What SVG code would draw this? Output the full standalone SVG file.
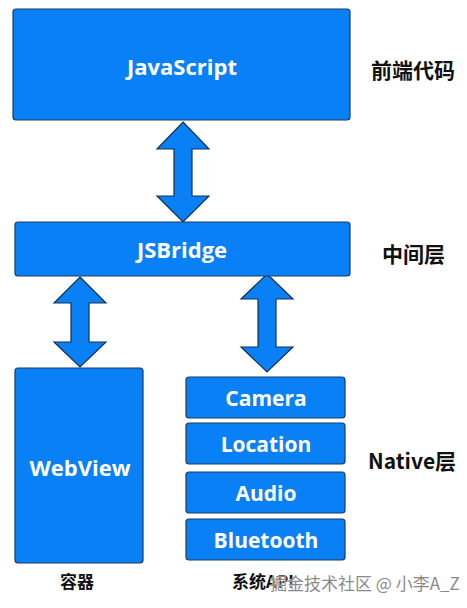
<svg xmlns="http://www.w3.org/2000/svg" width="467" height="608" viewBox="0 0 467 608">
<style>
.box{fill:#0a80f6;stroke:#1b3a63;stroke-width:1.2}
.arr{fill:#0a80f6;stroke:#14304f;stroke-width:1.2;stroke-linejoin:miter}
.t{font-family:"Open Sans","Noto Sans",sans-serif;font-weight:700;fill:#ffffff;text-anchor:middle;dominant-baseline:central}
.lab{font-family:"Noto Sans CJK SC","Open Sans",sans-serif;font-weight:700;fill:#111111;dominant-baseline:central}
.wm{font-family:"Noto Sans CJK SC","Noto Sans",sans-serif;font-size:17px;fill:#8a8a8a;stroke:#ffffff;stroke-width:0.6;paint-order:stroke;dominant-baseline:central}
</style>
<rect width="467" height="608" fill="#ffffff"/>
<g id="connectors">
<polygon class="arr" points="183,122 209,149 192,149 192,196 209,196 183,222 157,196 174,196 174,149 157,149"/>
<polygon class="arr" points="80,277 106,303 89,303 89,342 106,342 80,367 54,342 71,342 71,303 54,303"/>
<polygon class="arr" points="267,274 293,299 276,299 276,347 293,347 267,372 241,347 258,347 258,299 241,299"/>
</g>
<g id="javascript">
<rect class="box" x="13" y="9" width="337" height="111" rx="3"/>
<text class="t" x="182" y="66" font-size="22">JavaScript</text>
</g>
<g id="jsbridge">
<rect class="box" x="15" y="222" width="335" height="54" rx="3"/>
<text class="t" x="182" y="249" font-size="22">JSBridge</text>
</g>
<g id="webview">
<rect class="box" x="15" y="368" width="128" height="195" rx="3"/>
<text class="t" x="80" y="467" font-size="22">WebView</text>
</g>
<g id="camera">
<rect class="box" x="186" y="377" width="159" height="41" rx="3"/>
<text class="t" x="266" y="398" font-size="21">Camera</text>
</g>
<g id="location">
<rect class="box" x="186" y="423" width="159" height="41" rx="3"/>
<text class="t" x="266" y="444" font-size="21">Location</text>
</g>
<g id="audio">
<rect class="box" x="186" y="472" width="159" height="41" rx="3"/>
<text class="t" x="266" y="493" font-size="21">Audio</text>
</g>
<g id="bluetooth">
<rect class="box" x="186" y="519" width="159" height="41" rx="3"/>
<text class="t" x="266" y="540" font-size="21">Bluetooth</text>
</g>
<g id="labels">
<text class="lab" x="371" y="69" font-size="21">前端代码</text>
<text class="lab" x="382" y="253" font-size="21">中间层</text>
<text class="lab" x="368" y="460" font-size="21">Native层</text>
<text class="lab" x="77" y="580" font-size="17" text-anchor="middle">容器</text>
<text class="lab" x="232" y="580" font-size="17">系统API</text>
<text class="wm" x="270" y="582">掘金技术社区 @ 小李A_Z</text>
</g>
</svg>
